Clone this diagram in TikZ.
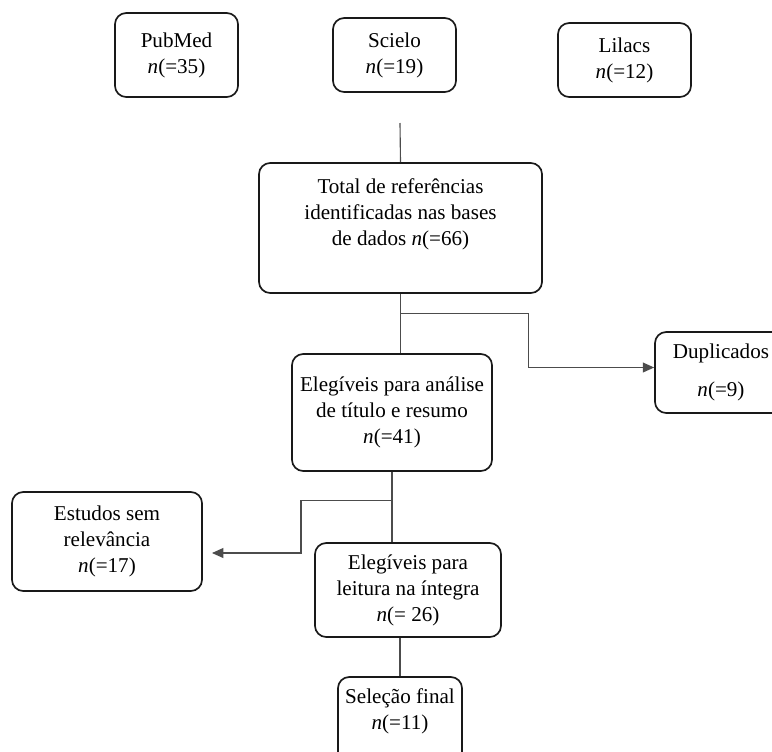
\documentclass[tikz,border=0pt]{standalone}
\usepackage{fontspec}
\setmainfont{Liberation Serif}
\usetikzlibrary{arrows.meta,calc}

\begin{document}
\begin{tikzpicture}[x=0.025cm, y=-0.025cm, thick,
        every node/.style={font=\fontsize{15}{18.5}\selectfont, inner sep=1pt},
        caixa/.style={draw=black!90, line width=1.2pt, rounded corners=8pt, align=center},
        liga/.style={draw=black!70, line width=0.8pt},
        seta/.style={liga, -{Triangle[length=8pt, width=7pt]}}]
        % Page area (Duplicados box runs past the right edge)
        \clip (0,0) rectangle (772,752);

        % Databases
        \node[caixa, minimum width=3.075cm, minimum height=2.1cm] (pubmed) at (176.5,55) {PubMed\\\textit{n}(=35)};
        \node[caixa, minimum width=3.075cm, minimum height=1.85cm] (scielo) at (394.5,55) {Scielo\\\textit{n}(=19)};
        \node[caixa, minimum width=3.325cm, minimum height=1.85cm] (lilacs) at (624.5,60) {Lilacs\\\textit{n}(=12)};

        % Main flow
        \node[caixa, minimum width=7.075cm, minimum height=3.25cm] (total) at (400.5,228)
            {Total de referências\\identificadas nas bases\\de dados \textit{n}(=66)\\[4pt]\mbox{}};
        \node[caixa, minimum width=5cm, minimum height=2.925cm] (analise) at (392,412.5)
            {Elegíveis para análise\\de título e resumo\\\textit{n}(=41)};
        \node[caixa, minimum width=4.65cm, minimum height=2.35cm] (leitura) at (408,590)
            {Elegíveis para\\leitura na íntegra\\\textit{n}(= 26)};
        \node[caixa, minimum width=3.1cm, minimum height=2.25cm] (selecao) at (400,722)
            {Seleção final\\\textit{n}(=11)\\\mbox{}};

        % Excluded
        \node[caixa, minimum width=3.3cm, minimum height=2.025cm] (dup) at (721,372.5)
            {Duplicados\\[9pt]\textit{n}(=9)};
        \node[caixa, minimum width=4.75cm, minimum height=2.475cm] (estudos) at (107,541.5)
            {Estudos sem\\relevância\\\textit{n}(=17)};

        % Connectors
        \coordinate (topo) at (400,123);
        \draw[liga] (topo) -- (total.north);
        \draw[liga] (total.south) -- (total.south |- analise.north);
        \coordinate (b1) at ($(total.south)+(0,20)$);
        \draw[seta] (b1) -- ++(128,0) |- ($(dup.west)+(0,-5)$);

        \draw[liga] (analise.south) -- (analise.south |- leitura.north);
        \coordinate (b2) at ($(analise.south)+(0,29)$);
        \coordinate (e2) at (212,553);
        \draw[seta] (b2) -- ++(-91,0) |- (e2);

        \draw[liga] (selecao.north |- leitura.south) -- (selecao.north);
    \end{tikzpicture}
\end{document}
